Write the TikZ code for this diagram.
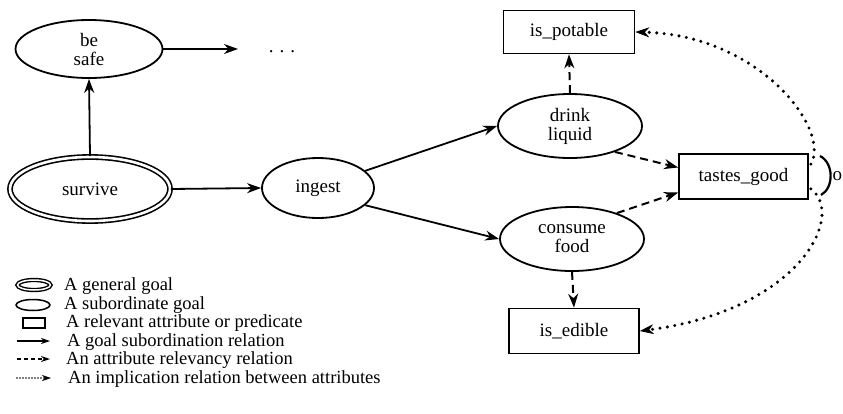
\documentclass[tikz,border=0pt]{standalone}
\usepackage{fontspec}
\setmainfont{Liberation Serif}
\usetikzlibrary{shapes.geometric,arrows.meta}

\begin{document}
\begin{tikzpicture}[x=1pt,y=-1pt,
  every node/.style={font=\fontsize{19}{19}\selectfont},
  goal/.style={ellipse,draw,line width=1.8pt,inner sep=0pt,align=center},
  attr/.style={rectangle,draw,line width=1.7pt,inner sep=0pt},
  sub/.style={-{Stealth[length=14pt,width=10pt]},line width=1.8pt},
  rel/.style={-{Stealth[length=14pt,width=10pt]},line width=2pt,dash pattern=on 8pt off 5pt},
  impl/.style={-{Stealth[length=14pt,width=10pt,line width=0.8pt]},line width=3.4pt,line cap=round,dash pattern=on 0pt off 7.5pt},
  lsub/.style={-{Stealth[length=9pt,width=6pt]},line width=1.2pt},
  lrel/.style={-{Stealth[length=9pt,width=6pt]},line width=1.4pt,dash pattern=on 4pt off 3pt},
  limpl/.style={-{Stealth[length=9pt,width=6pt,line width=0.5pt]},line width=1.8pt,line cap=round,dash pattern=on 0pt off 3pt},
  legtext/.style={anchor=west,inner sep=0pt,font=\fontsize{18.5}{19}\selectfont},
  ]
  % canvas
  \fill[white] (0,0) rectangle (843,413);
  \useasboundingbox (0,0) rectangle (843,413);

  % goals
  \node[goal,minimum width=147pt,minimum height=58pt] (safe) at (89,49) {be\\safe};
  \node[goal,double,double distance=2.6pt,line width=1.6pt,
        minimum width=160pt,minimum height=64pt] (surv) at (90,189) {survive};
  \node[goal,minimum width=112pt,minimum height=60pt] (ing) at (318,188) {ingest};
  \node[goal,minimum width=144pt,minimum height=64pt] (dl) at (570,126) {drink\\liquid};
  \node[goal,minimum width=144pt,minimum height=64pt] (cf) at (572,239) {consume\\food};

  % attributes
  \node[attr,minimum width=131pt,minimum height=43pt] (pot) at (569,32) {is\_potable};
  \node[attr,minimum width=129pt,minimum height=45pt] (tg) at (743.5,176.5) {tastes\_good};
  \node[attr,minimum width=130pt,minimum height=45pt] (ied) at (574,331) {is\_edible};

  % continuation mark
  \coordinate (more) at (238,49);
  \node[anchor=base] (dots) at (282,52) {.\hspace{6pt}.\hspace{6pt}.};

  % goal subordination
  \draw[sub] (surv.north) -- (safe.south);
  \draw[sub] (safe.east) -- (more);
  \draw[sub] (surv.east) -- (ing.west);
  \draw[sub] (ing.20) -- (dl.west);
  \draw[sub] (ing.-20) -- (cf.west);

  % attribute relevancy
  \draw[rel] (dl.north) -- (pot.south);
  \draw[rel] (cf.south) -- (ied.north);
  \draw[rel] (dl.-30) -- ([yshift=9pt]tg.west);
  \draw[rel] (cf.30) -- ([yshift=-16pt]tg.west);

  % implications with the "or" arc
  \coordinate (tgU) at ([xshift=2pt,yshift=-11pt]tg.north east);
  \coordinate (tgD) at ([xshift=2pt,yshift=11pt]tg.south east);
  \draw[impl] (tgU) .. controls (831,130) and (760,35) .. (pot.east);
  \draw[impl] (tgD) .. controls (846,215) and (800,310) .. (ied.east);
  \coordinate (orT) at (820,156);
  \coordinate (orB) at (821,195);
  \draw[line width=2.2pt] (orT) .. controls (834,163) and (834,188) .. (orB);
  \node[anchor=west,inner sep=0pt] (or) at (832.5,176) {o};

  % legend
  \node[ellipse,draw,double,double distance=1.5pt,line width=1.4pt,
        minimum width=33pt,minimum height=10pt,inner sep=0pt] (lg1) at (34,285) {};
  \node[ellipse,draw,line width=1.5pt,minimum width=34pt,minimum height=11pt,inner sep=0pt] (lg2) at (33,305) {};
  \node[rectangle,draw,line width=1.5pt,minimum width=22pt,minimum height=10pt,inner sep=0pt] (lg3) at (34,323) {};
  \coordinate (la4) at (17,341); \coordinate (lb4) at (50,341);
  \coordinate (la5) at (17,359); \coordinate (lb5) at (50,359);
  \coordinate (la6) at (17,378); \coordinate (lb6) at (51,378);
  \draw[lsub] (la4) -- (lb4);
  \draw[lrel] (la5) -- (lb5);
  \draw[limpl] (la6) -- (lb6);

  \node[legtext] (t1) at (64,286) {A general goal};
  \node[legtext] (t2) at (64,305) {A subordinate goal};
  \node[legtext] (t3) at (66,323) {A relevant attribute or predicate};
  \node[legtext] (t4) at (67,342) {A goal subordination relation};
  \node[legtext] (t5) at (66,360) {An attribute relevancy relation};
  \node[legtext] (t6) at (68,379) {An implication relation between attributes};
\end{tikzpicture}
\end{document}
